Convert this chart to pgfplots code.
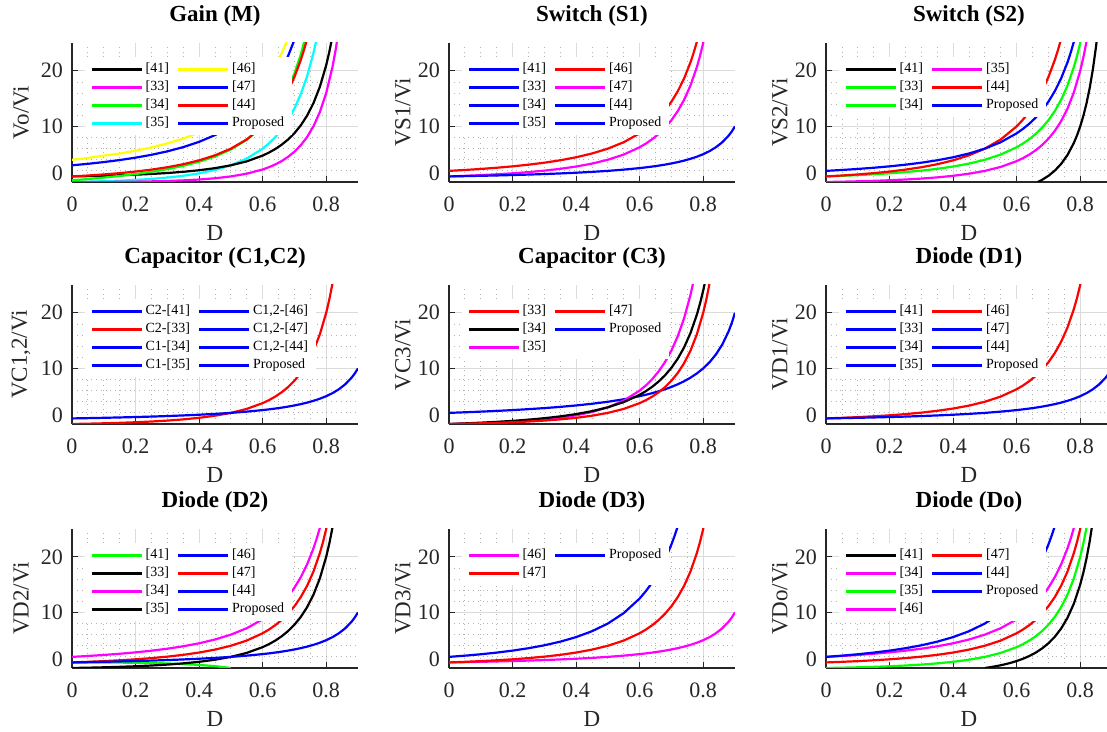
\documentclass[border=0pt]{standalone}
\usepackage{pgfplots}
\usepackage{pgfplotstable}
\pgfplotsset{compat=1.18}
\usepackage{fontspec}
\setmainfont{Liberation Serif}
\definecolor{mMag}{rgb}{1,0,1}
\definecolor{mCya}{rgb}{0,1,1}
\definecolor{mYel}{rgb}{1,1,0}
\definecolor{mGre}{rgb}{0,1,0}
\definecolor{mBlu}{rgb}{0,0,1}
\definecolor{mRed}{rgb}{1,0,0}

\pgfplotsset{
  lk/.style={black, line width=1.1pt},
  lm/.style={mMag, line width=1.1pt},
  lg/.style={mGre, line width=1.1pt},
  lc/.style={mCya, line width=1.1pt},
  ly/.style={mYel, line width=1.1pt},
  lb/.style={mBlu, line width=1.1pt},
  lr/.style={mRed, line width=1.1pt},
  panel/.style={
    scale only axis, width=143pt, height=69.5pt,
    xmin=0, xmax=0.9, ymin=0, ymax=25,
    xtick={0,0.2,0.4,0.6,0.8}, xticklabels={0,0.2,0.4,0.6,0.8},
    ytick={0,10,20}, yticklabels={\raisebox{9pt}{0},10,20},
    minor x tick num=3, minor y tick num=4,
    grid=both,
    major grid style={draw=black!14, line width=0.5pt},
    minor grid style={draw=black!30, dotted, line width=0.4pt},
    axis x line*=bottom, axis y line*=left,
    axis line style={-, draw=black!85, line width=0.6pt},
    tick align=inside, major tick length=3pt, minor tick length=0pt,
    tick style={draw=black!85, line width=0.5pt},
    ticklabel style={font=\fontsize{11}{12}\selectfont, text=black!85},
    xticklabel style={yshift=-4pt},
    yticklabel style={xshift=-1pt},
    xlabel={D},
    every axis x label/.style={at={(axis description cs:0.5,0)}, anchor=center, yshift=-25.5pt, font=\fontsize{11.5}{12}\selectfont, text=black!85},
    every axis y label/.style={rotate=90, anchor=center, font=\fontsize{11.5}{12}\selectfont, text=black!85},
    every axis title/.style={at={(axis description cs:0.5,1)}, anchor=center, yshift=13.5pt, font=\bfseries\fontsize{11.5}{12}\selectfont},
    legend columns=2,
    legend cell align=left,
    legend image code/.code={\draw[##1] (0pt,0pt) -- (25pt,0pt);},
    legend style={at={(axis description cs:0.0455,0.899)}, anchor=north west,
      fill=white, draw=none, inner xsep=2.5pt, inner ysep=1.5pt,
      font=\fontsize{7}{8}\selectfont,
      nodes={inner xsep=1.5pt, inner ysep=1.2pt, text height=5pt, text depth=1.6pt},
      /tikz/every even column/.append style={column sep=2.5pt}},
  },
  c1/.style={ylabel style={at={(axis description cs:-0.178,0.5)}}},
  c2/.style={ylabel style={at={(axis description cs:-0.161,0.5)}}},
}

\begin{document}
% 1/(1-D)
\pgfplotstableread{
D V
0 1
0.05 1.0526
0.1 1.1111
0.15 1.1765
0.2 1.25
0.25 1.3333
0.3 1.4286
0.35 1.5385
0.4 1.6667
0.45 1.8182
0.5 2
0.55 2.2222
0.6 2.5
0.62 2.6316
0.64 2.7778
0.66 2.9412
0.68 3.125
0.7 3.3333
0.72 3.5714
0.74 3.8462
0.76 4.1667
0.78 4.5455
0.8 5
0.82 5.5556
0.84 6.25
0.86 7.1429
0.88 8.3333
0.89 9.0909
0.9 10
}\tGone
% 2/(1-D)
\pgfplotstableread{
D V
0 2
0.05 2.1053
0.1 2.2222
0.15 2.3529
0.2 2.5
0.25 2.6667
0.3 2.8571
0.35 3.0769
0.4 3.3333
0.45 3.6364
0.5 4
0.55 4.4444
0.6 5
0.62 5.2632
0.64 5.5556
0.66 5.8824
0.68 6.25
0.7 6.6667
0.72 7.1429
0.74 7.6923
0.76 8.3333
0.78 9.0909
0.8 10
0.82 11.1111
0.84 12.5
0.86 14.2857
0.88 16.6667
0.89 18.1818
0.9 20
}\tGtwo
% 1/(1-D)^2
\pgfplotstableread{
D V
0 1
0.05 1.108
0.1 1.2346
0.15 1.3841
0.2 1.5625
0.25 1.7778
0.3 2.0408
0.35 2.3669
0.4 2.7778
0.45 3.3058
0.5 4
0.55 4.9383
0.6 6.25
0.62 6.9252
0.64 7.716
0.66 8.6505
0.68 9.7656
0.7 11.1111
0.72 12.7551
0.74 14.7929
0.76 17.3611
0.78 20.6612
0.79 22.6757
0.8 25
0.81 27.7008
}\tGsq
% D/(1-D)^2
\pgfplotstableread{
D V
0 0
0.05 0.0554
0.1 0.1235
0.15 0.2076
0.2 0.3125
0.25 0.4444
0.3 0.6122
0.35 0.8284
0.4 1.1111
0.45 1.4876
0.5 2
0.55 2.716
0.6 3.75
0.62 4.2936
0.64 4.9382
0.66 5.7093
0.68 6.6406
0.7 7.7778
0.72 9.1837
0.74 10.9467
0.76 13.1944
0.78 16.1157
0.8 20
0.81 22.4376
0.82 25.3086
}\tC
% (2-D)/(1-D)^2
\pgfplotstableread{
D V
0 2
0.05 2.1606
0.1 2.3457
0.15 2.5606
0.2 2.8125
0.25 3.1111
0.3 3.4694
0.35 3.9053
0.4 4.4444
0.45 5.124
0.5 6
0.55 7.1605
0.6 8.75
0.62 9.5568
0.64 10.4938
0.66 11.5917
0.68 12.8906
0.7 14.4444
0.72 16.3265
0.74 18.6391
0.76 21.5278
0.77 23.2514
0.78 25.2067
}\tE
% (1+D)/(1-D)^2
\pgfplotstableread{
D V
0 1
0.05 1.1634
0.1 1.358
0.15 1.5917
0.2 1.875
0.25 2.2222
0.3 2.6531
0.35 3.1953
0.4 3.8889
0.45 4.7934
0.5 6
0.55 7.6543
0.6 10
0.62 11.2188
0.64 12.6542
0.66 14.3598
0.68 16.4062
0.7 18.8889
0.72 21.9388
0.73 23.7311
0.74 25.7396
}\tF
% D^2/(1-D)^2
\pgfplotstableread{
D V
0 0
0.05 0.0028
0.1 0.0123
0.15 0.0311
0.2 0.0625
0.25 0.1111
0.3 0.1837
0.35 0.2899
0.4 0.4444
0.45 0.6694
0.5 1
0.55 1.4938
0.6 2.25
0.62 2.6621
0.64 3.1605
0.66 3.7682
0.68 4.5156
0.7 5.4444
0.72 6.6122
0.74 8.1006
0.76 10.0278
0.78 12.5706
0.8 16
0.82 20.7535
0.83 23.837
0.84 27.5625
}\tG
% D(1+D)/(1-D)^2
\pgfplotstableread{
D V
0 0
0.05 0.0582
0.1 0.1358
0.15 0.2388
0.2 0.375
0.25 0.5556
0.3 0.7959
0.35 1.1183
0.4 1.5556
0.45 2.157
0.5 3
0.55 4.2099
0.6 6
0.62 6.9557
0.64 8.0987
0.66 9.4775
0.68 11.1562
0.7 13.2222
0.72 15.7959
0.74 19.0473
0.76 23.2222
0.77 25.7636
}\tH
% 1 + D/(1-D)^2
\pgfplotstableread{
D V
0 1
0.05 1.0554
0.1 1.1235
0.15 1.2076
0.2 1.3125
0.25 1.4444
0.3 1.6122
0.35 1.8284
0.4 2.1111
0.45 2.4876
0.5 3
0.55 3.716
0.6 4.75
0.62 5.2936
0.64 5.9382
0.66 6.7093
0.68 7.6406
0.7 8.7778
0.72 10.1837
0.74 11.9467
0.76 14.1944
0.78 17.1157
0.8 21
0.81 23.4376
0.82 26.3086
}\tK
% D(2-D)/(1-D)^2
\pgfplotstableread{
D V
0 0
0.05 0.108
0.1 0.2346
0.15 0.3841
0.2 0.5625
0.25 0.7778
0.3 1.0408
0.35 1.3669
0.4 1.7778
0.45 2.3058
0.5 3
0.55 3.9383
0.6 5.25
0.62 5.9252
0.64 6.716
0.66 7.6505
0.68 8.7656
0.7 10.1111
0.72 11.7551
0.74 13.7929
0.76 16.3611
0.78 19.6612
0.79 21.6757
0.8 24
0.81 26.7008
}\tL
% 2/(1-D)^2
\pgfplotstableread{
D V
0 2
0.05 2.216
0.1 2.4691
0.15 2.7682
0.2 3.125
0.25 3.5556
0.3 4.0816
0.35 4.7337
0.4 5.5556
0.45 6.6116
0.5 8
0.55 9.8765
0.6 12.5
0.62 13.8504
0.64 15.432
0.66 17.301
0.68 19.5312
0.7 22.2222
0.71 23.781
0.72 25.5102
}\tTwoSq
% S2 [41]
\pgfplotstableread{
D V
0.6667 0
0.68 0.3906
0.7 1.1111
0.72 2.0409
0.74 3.2543
0.76 4.861
0.78 7.0247
0.79 8.39
0.8 10
0.81 11.9112
0.82 14.1974
0.83 16.955
0.84 20.3125
0.85 24.4444
0.86 29.5917
}\tSb
% Do [41]
\pgfplotstableread{
D V
0.5 0
0.52 0.1736
0.54 0.3781
0.56 0.6198
0.58 0.9070
0.6 1.25
0.62 1.662
0.64 2.1604
0.66 2.7681
0.68 3.5156
0.7 4.4444
0.72 5.6123
0.74 7.1005
0.76 9.0277
0.78 11.5702
0.8 15
0.81 17.1744
0.82 19.753
0.83 22.8374
0.84 26.5625
}\tDo
% D2 [41]
\pgfplotstableread{
D V
0 1
0.05 0.9973
0.1 0.9877
0.15 0.9689
0.2 0.9375
0.25 0.8889
0.3 0.8163
0.35 0.7101
0.4 0.5556
0.45 0.3306
0.5 0
}\tDg
% Gain [46]
\pgfplotstableread{
D V
0 4
0.05 4.3213
0.1 4.7407
0.15 5.1211
0.2 5.625
0.25 6.2222
0.3 6.9388
0.35 7.8107
0.4 8.8889
0.45 10.2479
0.5 12
0.55 14.321
0.6 17.5
0.62 19.1136
0.64 20.9876
0.66 23.1834
0.68 25.7812
}\tY
% Gain [47], Proposed
\pgfplotstableread{
D V
0 3
0.05 3.2686
0.1 3.5802
0.15 3.9447
0.2 4.375
0.25 4.8889
0.3 5.5102
0.35 6.2722
0.4 7.2222
0.45 8.4298
0.5 10
0.55 12.0988
0.6 15
0.62 16.482
0.64 18.2098
0.66 20.2422
0.68 22.6562
0.7 25.5556
}\tBl
% Gain [34]
\pgfplotstableread{
D V
0 0.3
0.05 0.53
0.1 0.79
0.15 1.09
0.2 1.43
0.25 1.83
0.3 2.31
0.35 2.9
0.4 3.64
0.45 4.58
0.5 5.85
0.55 7.6
0.6 10
0.62 11.3
0.64 12.8
0.66 14.6
0.68 16.8
0.7 19.5
0.72 22.9
0.74 27.2
}\tGr

\begin{tikzpicture}
\useasboundingbox (0,0) rectangle (553.5pt,366pt);

% ---------- Row 1 ----------
\begin{axis}[panel, c1, at={(36pt,275pt)}, anchor=south west, title={Gain (M)}, ylabel={Vo/Vi}]
\addplot[lc, forget plot] table {\tH};
\addplot[lm, forget plot] table {\tG};
\addplot[lk, forget plot] table {\tK};
\addplot[lg, forget plot] table {\tGr};
\addplot[lr, forget plot] table {\tF};
\addplot[ly, forget plot] table {\tY};
\addplot[lb, forget plot] table {\tBl};
\addlegendimage{lk}\addlegendentry{[41]}
\addlegendimage{ly}\addlegendentry{[46]}
\addlegendimage{lm}\addlegendentry{[33]}
\addlegendimage{lb}\addlegendentry{[47]}
\addlegendimage{lg}\addlegendentry{[34]}
\addlegendimage{lr}\addlegendentry{[44]}
\addlegendimage{lc}\addlegendentry{[35]}
\addlegendimage{lb}\addlegendentry{Proposed}
\end{axis}

\begin{axis}[panel, c2, at={(224.5pt,275pt)}, anchor=south west, title={Switch (S1)}, ylabel={VS1/Vi}]
\addplot[lr, forget plot] table {\tE};
\addplot[lm, forget plot] table {\tGsq};
\addplot[lb, forget plot] table {\tGone};
\addlegendimage{lb}\addlegendentry{[41]}
\addlegendimage{lr}\addlegendentry{[46]}
\addlegendimage{lb}\addlegendentry{[33]}
\addlegendimage{lm}\addlegendentry{[47]}
\addlegendimage{lb}\addlegendentry{[34]}
\addlegendimage{lb}\addlegendentry{[44]}
\addlegendimage{lb}\addlegendentry{[35]}
\addlegendimage{lb}\addlegendentry{Proposed}
\end{axis}

\begin{axis}[panel, c2, at={(413pt,275pt)}, anchor=south west, title={Switch (S2)}, ylabel={VS2/Vi}]
\addplot[lk, forget plot] table {\tSb};
\addplot[lg, forget plot] table {\tGsq};
\addplot[lm, forget plot] table {\tC};
\addplot[lr, forget plot] table {\tF};
\addplot[lb, forget plot] table {\tE};
\addlegendimage{lk}\addlegendentry{[41]}
\addlegendimage{lm}\addlegendentry{[35]}
\addlegendimage{lg}\addlegendentry{[33]}
\addlegendimage{lr}\addlegendentry{[44]}
\addlegendimage{lg}\addlegendentry{[34]}
\addlegendimage{lb}\addlegendentry{Proposed}
\end{axis}

% ---------- Row 2 ----------
\begin{axis}[panel, c1, at={(36pt,154pt)}, anchor=south west, title={Capacitor (C1,C2)}, ylabel={VC1,2/Vi}]
\addplot[lr, forget plot] table {\tC};
\addplot[lb, forget plot] table {\tGone};
\addlegendimage{lb}\addlegendentry{C2-[41]}
\addlegendimage{lb}\addlegendentry{C1,2-[46]}
\addlegendimage{lr}\addlegendentry{C2-[33]}
\addlegendimage{lb}\addlegendentry{C1,2-[47]}
\addlegendimage{lb}\addlegendentry{C1-[34]}
\addlegendimage{lb}\addlegendentry{C1,2-[44]}
\addlegendimage{lb}\addlegendentry{C1-[35]}
\addlegendimage{lb}\addlegendentry{Proposed}
\end{axis}

\begin{axis}[panel, c2, at={(224.5pt,154pt)}, anchor=south west, title={Capacitor (C3)}, ylabel={VC3/Vi}]
\addplot[lb, forget plot] table {\tGtwo};
\addplot[lm, forget plot] table {\tH};
\addplot[lk, forget plot] table {\tL};
\addplot[lr, forget plot] table {\tC};
\addlegendimage{lr}\addlegendentry{[33]}
\addlegendimage{lr}\addlegendentry{[47]}
\addlegendimage{lk}\addlegendentry{[34]}
\addlegendimage{lb}\addlegendentry{Proposed}
\addlegendimage{lm}\addlegendentry{[35]}
\end{axis}

\begin{axis}[panel, c2, at={(413pt,154pt)}, anchor=south west, title={Diode (D1)}, ylabel={VD1/Vi}]
\addplot[lr, forget plot] table {\tGsq};
\addplot[lb, forget plot] table {\tGone};
\addlegendimage{lb}\addlegendentry{[41]}
\addlegendimage{lr}\addlegendentry{[46]}
\addlegendimage{lb}\addlegendentry{[33]}
\addlegendimage{lb}\addlegendentry{[47]}
\addlegendimage{lb}\addlegendentry{[34]}
\addlegendimage{lb}\addlegendentry{[44]}
\addlegendimage{lb}\addlegendentry{[35]}
\addlegendimage{lb}\addlegendentry{Proposed}
\end{axis}

% ---------- Row 3 ----------
\begin{axis}[panel, c1, at={(36pt,32pt)}, anchor=south west, title={Diode (D2)}, ylabel={VD2/Vi}]
\addplot[lg, forget plot] table {\tDg};
\addplot[lk, forget plot] table {\tC};
\addplot[lm, forget plot] table {\tE};
\addplot[lr, forget plot] table {\tGsq};
\addplot[lb, forget plot] table {\tGone};
\addlegendimage{lg}\addlegendentry{[41]}
\addlegendimage{lb}\addlegendentry{[46]}
\addlegendimage{lk}\addlegendentry{[33]}
\addlegendimage{lr}\addlegendentry{[47]}
\addlegendimage{lm}\addlegendentry{[34]}
\addlegendimage{lb}\addlegendentry{[44]}
\addlegendimage{lk}\addlegendentry{[35]}
\addlegendimage{lb}\addlegendentry{Proposed}
\end{axis}

\begin{axis}[panel, c2, at={(224.5pt,32pt)}, anchor=south west, title={Diode (D3)}, ylabel={VD3/Vi}]
\addplot[lm, forget plot] table {\tGone};
\addplot[lr, forget plot] table {\tGsq};
\addplot[lb, forget plot] table {\tTwoSq};
\addlegendimage{lm}\addlegendentry{[46]}
\addlegendimage{lb}\addlegendentry{Proposed}
\addlegendimage{lr}\addlegendentry{[47]}
\end{axis}

\begin{axis}[panel, c2, at={(413pt,32pt)}, anchor=south west, title={Diode (Do)}, ylabel={VDo/Vi}]
\addplot[lk, forget plot] table {\tDo};
\addplot[lg, forget plot] table {\tC};
\addplot[lr, forget plot] table {\tGsq};
\addplot[lm, forget plot] table {\tE};
\addplot[lb, forget plot] table {\tTwoSq};
\addlegendimage{lk}\addlegendentry{[41]}
\addlegendimage{lr}\addlegendentry{[47]}
\addlegendimage{lm}\addlegendentry{[34]}
\addlegendimage{lb}\addlegendentry{[44]}
\addlegendimage{lg}\addlegendentry{[35]}
\addlegendimage{lb}\addlegendentry{Proposed}
\addlegendimage{lm}\addlegendentry{[46]}
\end{axis}
\end{tikzpicture}
\end{document}
